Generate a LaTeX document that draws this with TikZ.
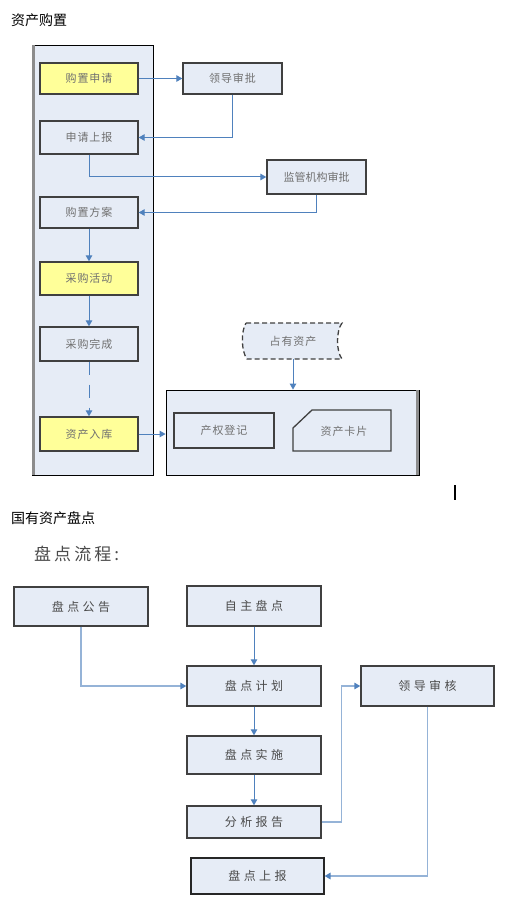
\documentclass[tikz,border=0pt]{standalone}
\usepackage{fontspec}
\setmainfont{Noto Sans CJK SC}
\newfontfamily\cjk{Noto Sans CJK SC}
\newfontfamily\cjksp[LetterSpace=8]{Noto Sans CJK SC}
\newfontfamily\cjkspb[LetterSpace=28]{Noto Sans CJK SC}
\newfontfamily\cjkspc[LetterSpace=18]{Noto Sans CJK SC}
\usetikzlibrary{arrows.meta}
\definecolor{boxfill}{HTML}{E6ECF6}
\definecolor{boxborder}{HTML}{404040}
\definecolor{hilite}{HTML}{FFFF99}
\definecolor{conncol}{HTML}{4F81BD}
\definecolor{connlight}{HTML}{95B3D7}
\definecolor{txtgray}{HTML}{707070}
\definecolor{txtdark}{HTML}{4A4A4A}
\definecolor{edgegray}{HTML}{8C8C8C}
\tikzset{
  tbox/.style={draw=boxborder, line width=1.3pt, fill=boxfill, inner sep=0pt,
    font=\cjksp\fontsize{11}{13}\selectfont, text=txtgray},
  ybox/.style={tbox, fill=hilite},
  bbox/.style={draw=boxborder, line width=1.4pt, fill=boxfill, inner sep=0pt,
    font=\cjkspb\fontsize{12}{14}\selectfont, text=txtdark},
  frame/.style={draw=black, line width=0.8pt, fill=boxfill, inner sep=0pt},
  conn/.style={draw=conncol, line width=1pt, -{Triangle[length=6pt,width=6.5pt]}},
  connl/.style={draw=connlight, line width=1.5pt, -{Triangle[length=6pt,width=6.5pt,color=conncol]}},
  title/.style={font=\cjk\fontsize{14}{16}\selectfont, text=black, inner sep=0pt, anchor=west},
}
\begin{document}
\begin{tikzpicture}[x=1pt, y=-1pt]
\useasboundingbox (0,0) rectangle (508,912);

% titles
\node[title] (t1) at (11,20) {资产购置};
\node[title] (t2) at (11,518) {国有资产盘点};
\node[font=\cjkspc\fontsize{17}{19}\selectfont, text=txtdark, inner sep=0pt, anchor=west] (t3) at (34,554) {盘点流程:};

% containers
\node[frame, minimum width=121pt, minimum height=430pt] (lc) at (92.5,260) {};
\draw[edgegray, line width=2.5pt] (33.5,45) -- (33.5,475);
\node[frame, minimum width=253pt, minimum height=85pt] (rc) at (292.5,432.5) {};
\draw[edgegray, line width=2.5pt] (417.5,390) -- (417.5,475);

% left column boxes
\node[ybox, minimum width=98pt, minimum height=31pt] (sq) at (89,78.5) {购置申请};
\node[tbox, minimum width=98pt, minimum height=33pt] (sb) at (89,137.5) {申请上报};
\node[tbox, minimum width=98pt, minimum height=31pt] (fa) at (89,212.5) {购置方案};
\node[ybox, minimum width=98pt, minimum height=33pt] (hd) at (89,278.5) {采购活动};
\node[tbox, minimum width=98pt, minimum height=34pt] (wc) at (89,344) {采购完成};
\node[ybox, minimum width=98pt, minimum height=34pt] (rk) at (89,434) {资产入库};

% right boxes
\node[tbox, minimum width=99pt, minimum height=31pt] (ld) at (232.5,78.5) {领导审批};
\node[tbox, minimum width=99pt, minimum height=34pt, font=\cjk\fontsize{11}{13}\selectfont] (jg) at (316.5,177) {监管机构审批};

% stored data shape
\draw[boxborder, line width=1.3pt, fill=boxfill, dash pattern=on 5pt off 3pt]
  (246,323) -- (342,323) .. controls (336,331) and (336,351) .. (342,359)
  -- (247,359) .. controls (241,351) and (241,331) .. (246,323);
\node[inner sep=0pt, minimum width=96pt, minimum height=36pt,
  font=\cjksp\fontsize{11}{13}\selectfont, text=txtgray] (zy) at (293,341) {占有资产};

% inside right container
\node[tbox, minimum width=100pt, minimum height=35pt] (cq) at (224,430.5) {产权登记};
\draw[boxborder, line width=1.3pt, fill=boxfill]
  (312,410) -- (391,410) -- (391,451) -- (293,451) -- (293,428) -- cycle;
\node[inner sep=0pt, minimum width=98pt, minimum height=41pt,
  font=\cjksp\fontsize{11}{13}\selectfont, text=txtgray] (kp) at (344,431) {资产卡片};

% connectors top
\draw[conn] (sq.east) -- (ld.west);
\draw[conn] (ld.south) |- (sb.east);
\draw[conn] (sb.south) |- (jg.west);
\draw[conn] (jg.south) |- (fa.east);
\draw[conn] (fa) -- (hd);
\draw[conn] (hd) -- (wc);
\draw[conn, dash pattern=on 13pt off 10pt] (wc) -- (rk);
\draw[conn] (rk.east) -- (rk.east -| rc.west);
\draw[conn] (zy.south) -- (zy.south |- rc.north);

% cursor mark
\draw[black, line width=1.5pt] (455,485) -- (455,500);

% bottom flow
\node[bbox, minimum width=134pt, minimum height=39pt] (gg) at (81,606.5) {盘点公告};
\node[bbox, minimum width=134pt, minimum height=40pt] (zz) at (254,606) {自主盘点};
\node[bbox, minimum width=134pt, minimum height=40pt] (jh) at (254,686) {盘点计划};
\node[bbox, minimum width=133pt, minimum height=40pt] (sh) at (427.5,686) {领导审核};
\node[bbox, minimum width=134pt, minimum height=38pt] (ss) at (254,755) {盘点实施};
\node[bbox, minimum width=134pt, minimum height=32pt] (fx) at (254,822) {分析报告};
\node[bbox, draw=black!85, line width=1.2pt, minimum width=133pt, minimum height=36pt] (sbb) at (257.5,876) {盘点上报};

\draw[connl] (gg.south) |- (jh.west);
\draw[conn] (zz) -- (jh);
\draw[conn] (jh) -- (ss);
\draw[conn] (ss) -- (fx);
\draw[connl] (fx.east) -- ++(20,0) |- (sh.west);
\draw[connl] (sh.south) |- (sbb.east);
\end{tikzpicture}
\end{document}
